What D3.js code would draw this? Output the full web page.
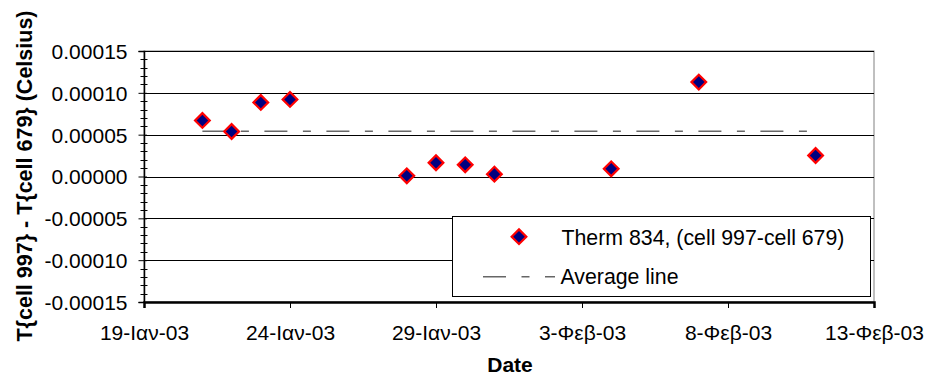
<!DOCTYPE html>
<html>
<head>
<meta charset="utf-8">
<script src="https://cdn.jsdelivr.net/npm/d3@7"></script>
<style>
  body { margin: 0; background: #fff; }
  svg text { font-family: "Liberation Sans", Arial, sans-serif; fill: #000; }
</style>
</head>
<body>
<div id="chart"></div>
<script>
// measurement days and differences (Celsius)
const dates = ['2003-01-21', '2003-01-22', '2003-01-23', '2003-01-24', '2003-01-28', '2003-01-29',
  '2003-01-30', '2003-01-31', '2003-02-04', '2003-02-07', '2003-02-11'];
const diffs = [0.0000670, 0.0000538, 0.0000885, 0.0000921, 0.0000008, 0.0000164,
  0.0000140, 0.0000028, 0.0000092, 0.0001128, 0.0000251];

const avgValue = 0.0000541;
const avgDates = ['2003-01-21', '2003-02-11'];

const xTickDates = ['2003-01-19', '2003-01-24', '2003-01-29', '2003-02-03', '2003-02-08', '2003-02-13'];
const xTickLabels = ['19-Ιαν-03', '24-Ιαν-03', '29-Ιαν-03', '3-Φεβ-03', '8-Φεβ-03', '13-Φεβ-03'];
const yTicks = [-0.00015, -0.00010, -0.00005, 0, 0.00005, 0.00010, 0.00015];

const seriesName = 'Therm 834, (cell 997-cell 679)';
const avgName = 'Average line';

const parse = d3.utcParse('%Y-%m-%d');
const width = 925, height = 376;
const margin = {top: 51, right: 51, bottom: 74, left: 144};
const w = width - margin.left - margin.right;
const h = height - margin.top - margin.bottom;

const svg = d3.select('#chart').append('svg')
  .attr('width', width)
  .attr('height', height);

const g = svg.append('g')
  .attr('transform', `translate(${margin.left},${margin.top})`);

const x = d3.scaleUtc()
  .domain([parse(xTickDates[0]), parse(xTickDates[xTickDates.length - 1])])
  .range([0, w]);

const y = d3.scaleLinear()
  .domain([-0.00015, 0.00015])
  .range([h, 0]);

// plot area border
g.append('rect')
  .attr('x', 0).attr('y', 0)
  .attr('width', w).attr('height', h)
  .attr('fill', '#fff')
  .attr('stroke', '#808080')
  .attr('stroke-width', 1);

// gridlines
g.selectAll('.grid')
  .data(yTicks.slice(1))
  .enter().append('line')
  .attr('class', 'grid')
  .attr('x1', 0).attr('x2', w)
  .attr('y1', d => Math.round(y(d)) + 0.5)
  .attr('y2', d => Math.round(y(d)) + 0.5)
  .attr('stroke', '#000')
  .attr('stroke-width', 1);

// minor y ticks
const minor = d3.range(-15, 16).filter(i => i % 5 !== 0).map(i => i * 0.00001);
g.append('g')
  .selectAll('line')
  .data(minor)
  .enter().append('line')
  .attr('x1', -3.5).attr('x2', 3.5)
  .attr('y1', d => Math.round(y(d)) + 0.5)
  .attr('y2', d => Math.round(y(d)) + 0.5)
  .attr('stroke', '#000');

// y axis
const yAxis = g.append('g')
  .call(d3.axisLeft(y).tickValues(yTicks).tickSize(5.5).tickPadding(11)
    .tickFormat(d => d3.format('.5f')(d).replace('−', '-')));
yAxis.select('.domain').attr('stroke', '#000').attr('stroke-width', 1.5);
yAxis.selectAll('.tick line').attr('x2', -5.5).attr('x1', 3);
yAxis.selectAll('text').style('font-size', '21px').attr('dy', '0.35em');

// x axis
const xAxis = g.append('g')
  .attr('transform', `translate(0,${h})`)
  .call(d3.axisBottom(x).tickValues(xTickDates.map(parse)).tickSize(6).tickPadding(17)
    .tickFormat((d, i) => xTickLabels[i]));
xAxis.select('.domain').attr('stroke', '#000').attr('stroke-width', 2.5);
xAxis.selectAll('text').style('font-size', '21px');

// average line
g.append('line')
  .attr('x1', x(parse(avgDates[0]))).attr('x2', x(parse(avgDates[1])))
  .attr('y1', y(avgValue)).attr('y2', y(avgValue))
  .attr('stroke', '#666')
  .attr('stroke-width', 1.6)
  .attr('stroke-dasharray', '23,15.5,8,15.5');

// points
const diamond = d3.symbol().type(d3.symbolSquare).size(108);
g.selectAll('.pt')
  .data(dates.map((d, i) => ({date: parse(d), value: diffs[i]})))
  .enter().append('path')
  .attr('class', 'pt')
  .attr('d', diamond)
  .attr('transform', d => `translate(${x(d.date)},${y(d.value)}) rotate(45)`)
  .attr('fill', '#000080')
  .attr('stroke', '#ff0000')
  .attr('stroke-width', 2.2);

// axis titles
svg.append('text')
  .attr('x', 510).attr('y', 372)
  .attr('text-anchor', 'middle')
  .style('font-size', '21px')
  .style('font-weight', 'bold')
  .text('Date');

svg.append('text')
  .attr('transform', `translate(32,${176}) rotate(-90)`)
  .attr('text-anchor', 'middle')
  .style('font-size', '21.5px')
  .style('font-weight', 'bold')
  .text('T{cell 997} - T{cell 679} (Celsius)');

// legend
const legend = svg.append('g');
legend.append('rect')
  .attr('x', 452.5).attr('y', 216.5)
  .attr('width', 418).attr('height', 80)
  .attr('fill', '#fff')
  .attr('stroke', '#000');

legend.append('path')
  .attr('d', diamond)
  .attr('transform', 'translate(519,236.7) rotate(45)')
  .attr('fill', '#000080')
  .attr('stroke', '#ff0000')
  .attr('stroke-width', 2.2);
legend.append('text')
  .attr('x', 561.5).attr('y', 244.5)
  .style('font-size', '21.3px')
  .text(seriesName);

legend.append('line')
  .attr('x1', 483).attr('x2', 555)
  .attr('y1', 276.7).attr('y2', 276.7)
  .attr('stroke', '#666')
  .attr('stroke-width', 1.6)
  .attr('stroke-dasharray', '23,15.5,8,15.5');
legend.append('text')
  .attr('x', 560.5).attr('y', 283.5)
  .style('font-size', '21.3px')
  .text(avgName);
</script>
</body>
</html>
